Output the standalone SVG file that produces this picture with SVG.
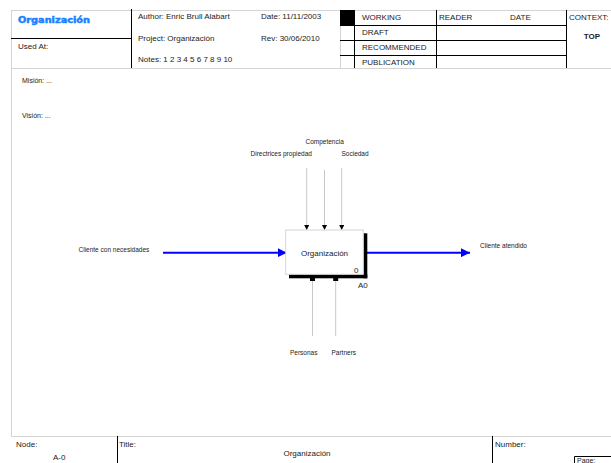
<svg xmlns="http://www.w3.org/2000/svg" width="611" height="463" viewBox="0 0 611 463">
<style>
text{font-family:"Liberation Sans",Arial,sans-serif;fill:#222}
.h{font-size:8px}
.s{font-size:6.5px}
.g{stroke:#d4d4d4;stroke-width:1;fill:none}
.k{stroke:#000;stroke-width:1;fill:none}
.gl{stroke:#c8c8c8;stroke-width:1;fill:none}
.bl{stroke:#0000ff;stroke-width:2;fill:none}
</style>
<defs>
<marker id="ah" markerWidth="5" markerHeight="5" refX="5" refY="2.5" orient="auto" markerUnits="userSpaceOnUse"><path d="M0,0L5,2.5L0,5Z" fill="#000"/></marker>
<marker id="bh" markerWidth="9" markerHeight="9" refX="9" refY="4.5" orient="auto" markerUnits="userSpaceOnUse"><path d="M0,0L9,4.5L0,9Z" fill="#0000ff"/></marker>
</defs>
<rect width="611" height="463" fill="#fff"/>
<g id="frame">
<line class="g" x1="11" y1="10.5" x2="611" y2="10.5"/>
<line class="g" x1="11.5" y1="10" x2="11.5" y2="436"/>
<line class="g" x1="11" y1="68.5" x2="611" y2="68.5"/>
<line class="g" x1="11" y1="436.5" x2="611" y2="436.5"/>
<line class="k" x1="11" y1="38.5" x2="131" y2="38.5"/>
<line class="k" x1="131.5" y1="9" x2="131.5" y2="68"/>
<rect x="340" y="10" width="14.5" height="15" fill="#000"/>
<line class="g" x1="340.5" y1="25" x2="340.5" y2="68"/>
<line class="k" x1="354.5" y1="10" x2="354.5" y2="68"/>
<line class="k" x1="436.5" y1="10" x2="436.5" y2="68"/>
<line class="k" x1="566.5" y1="10" x2="566.5" y2="68"/>
<line class="k" x1="340" y1="25.5" x2="566" y2="25.5"/>
<line class="k" x1="340" y1="40.5" x2="566" y2="40.5"/>
<line class="k" x1="340" y1="55.5" x2="566" y2="55.5"/>
<line class="k" x1="117.5" y1="436" x2="117.5" y2="463"/>
<line class="k" x1="492.5" y1="436" x2="492.5" y2="463"/>
<polyline class="k" points="574.5,463 574.5,456.5 611,456.5"/>
</g>
<g id="header-text">
<text x="18" y="23" textLength="72" lengthAdjust="spacingAndGlyphs" style="fill:#1a7fff;stroke:#1a7fff;stroke-width:0.5;font-family:'DejaVu Sans','Liberation Sans',sans-serif;font-weight:bold;font-size:9px">Organización</text>
<text class="h" x="18" y="49">Used At:</text>
<text class="h" x="138" y="19">Author:  Enric Brull Alabart</text>
<text class="h" x="138" y="41">Project: Organización</text>
<text class="h" x="138" y="62">Notes:   1 2 3 4 5 6 7 8 9 10</text>
<text class="h" x="261" y="19">Date: 11/11/2003</text>
<text class="h" x="261" y="41">Rev:  30/06/2010</text>
<text class="h" x="362" y="20">WORKING</text>
<text class="h" x="362" y="35">DRAFT</text>
<text class="h" x="362" y="50">RECOMMENDED</text>
<text class="h" x="362" y="65">PUBLICATION</text>
<text class="h" x="439" y="20">READER</text>
<text class="h" x="510" y="20">DATE</text>
<text class="h" x="569" y="20">CONTEXT:</text>
<text class="h" x="592" y="39" text-anchor="middle" font-weight="bold">TOP</text>
<text x="22" y="83" font-size="7">Misión:  ...</text>
<text x="22" y="118" font-size="7">Visión:  ...</text>
</g>
<g id="connectors">
<line class="gl" x1="306.7" y1="168" x2="306.7" y2="230" marker-end="url(#ah)"/>
<line class="gl" x1="324.5" y1="170" x2="324.5" y2="230" marker-end="url(#ah)"/>
<line class="gl" x1="341.7" y1="168" x2="341.7" y2="230" marker-end="url(#ah)"/>
<line class="gl" x1="312.5" y1="281" x2="312.5" y2="336"/>
<line class="gl" x1="335.7" y1="281" x2="335.7" y2="336"/>
<rect x="310" y="278" width="5" height="3" fill="#000"/>
<rect x="333.2" y="278" width="5" height="3" fill="#000"/>
<line class="bl" x1="163" y1="252.7" x2="286.7" y2="252.7" marker-end="url(#bh)"/>
<line class="bl" x1="363" y1="252.7" x2="470" y2="252.7" marker-end="url(#bh)"/>
</g>
<g id="node-A0">
<rect x="363.3" y="233.3" width="4" height="45" fill="#000"/>
<rect x="289" y="274.3" width="78.3" height="4" fill="#000"/>
<rect x="285.7" y="230" width="77.6" height="44.3" fill="#fff" stroke="#d4d4d4" stroke-width="1"/>
<text class="h" x="324.5" y="256" text-anchor="middle">Organización</text>
<text class="h" x="354" y="273">0</text>
<text class="h" x="358" y="288">A0</text>
</g>
<g id="labels">
<text class="s" x="305.5" y="144">Competencia</text>
<text class="s" x="250.5" y="156">Directrices propiedad</text>
<text class="s" x="341.5" y="156">Sociedad</text>
<text class="s" x="78.5" y="252">Cliente con necesidades</text>
<text class="s" x="480" y="248">Cliente atendido</text>
<text class="s" x="290" y="355">Personas</text>
<text class="s" x="331.5" y="355">Partners</text>
</g>
<g id="title-block">
<text class="h" x="16" y="447">Node:</text>
<text class="h" x="53" y="460">A-0</text>
<text class="h" x="119" y="447">Title:</text>
<text class="h" x="307" y="456" text-anchor="middle">Organización</text>
<text class="h" x="495" y="447">Number:</text>
<text x="577" y="462.5" font-size="7">Page:</text>
</g>
</svg>
